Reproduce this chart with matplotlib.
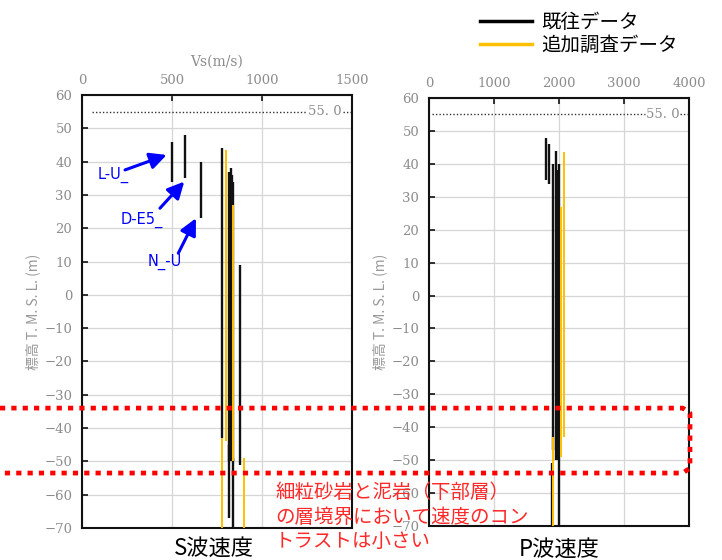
import matplotlib
matplotlib.use("Agg")
import matplotlib.pyplot as plt
from matplotlib.lines import Line2D
from matplotlib.transforms import blended_transform_factory

plt.rcParams['font.family'] = ['Noto Sans CJK JP', 'DejaVu Sans']

# S-wave velocity bars (m/s, elevation top / bottom in m)
s_old_vs = [500, 570, 660, 780, 818, 825, 832, 840, 880, 818, 840]
s_old_top = [46, 48, 40, 44, 37, 38, 36, 34, 9, -45, -49]
s_old_bot = [34, 35, 23, -43, -50, -50, -50, -50, -51, -67, -70]
s_new_vs = [778, 798, 840, 900]
s_new_top = [-43, 43.5, 27, -49]
s_new_bot = [-70, -44, -50, -70]

# P-wave velocity bars
p_old_vs = [1800, 1850, 1910, 1950, 1975, 2000, 1890, 2000]
p_old_top = [48, 46, 40, 44, 38, 40, -51, -50]
p_old_bot = [35, 34, -47, -50, -50, -50, -70, -70]
p_new_vs = [1913, 2030, 2080]
p_new_top = [-43, 27, 43.5]
p_new_bot = [-70, -49, -43]

ref_level = 55.0
boundary_top = -34
boundary_bot = -53.5

# blue labels: text, text pos, arrow tail, arrow head
lab_text = ['L-U_', 'D-E5_', 'N_-U']
lab_pos = [(172, 36), (330, 22.5), (460, 10)]
lab_tail = [(239, 37.5), (433, 26), (535, 12.5)]
lab_head = [(470, 42), (568, 34), (633, 23)]

BLACK = '#111111'
YELLOW = '#FFC000'
GRAY = '#8c8c8c'
serif = 'DejaVu Serif'

fig = plt.figure(figsize=(7.22, 5.60), dpi=100)
ax1 = fig.add_axes([82/722, 32/560, 270/722, 433/560])
ax2 = fig.add_axes([429/722, 34/560, 260/722, 428/560])


def style(ax, xmax, xstep, ref_start):
    ax.set_xlim(0, xmax)
    ax.set_ylim(-70, 60)
    ax.set_xticks(range(0, xmax + 1, xstep))
    ax.set_yticks(range(-70, 61, 10))
    ax.xaxis.tick_top()
    ax.tick_params(direction='in', length=4, width=1.2, color=BLACK,
                   labelcolor=GRAY, labelsize=9.5)
    ax.tick_params(axis='x', pad=6)
    ax.tick_params(axis='y', pad=7)
    for lab in ax.get_xticklabels() + ax.get_yticklabels():
        lab.set_family(serif)
    ax.grid(True, color='#d6d6d6', lw=0.9)
    ax.set_axisbelow(True)
    for sp in ax.spines.values():
        sp.set_linewidth(1.5)
        sp.set_color(BLACK)
    ax.axhline(ref_level, xmin=ref_start, xmax=0.83, color='#333333', lw=1.0,
               ls=(0, (1, 1.5)))
    ax.axhline(ref_level, xmin=0.965, xmax=1.0, color='#333333', lw=1.0,
               ls=(0, (1, 1.5)))
    ax.text(0.9, ref_level, '55. 0', transform=ax.get_yaxis_transform(),
            ha='center', va='center', color=GRAY, fontsize=9.5, family=serif)
    ax.set_ylabel('標高 T. M. S. L. (m)', color='#999999', fontsize=10, labelpad=3)


style(ax1, 1500, 500, 0.036)
style(ax2, 4000, 1000, 0.012)
ax1.set_xlabel('Vs(m/s)', color=GRAY, fontsize=10, family=serif, labelpad=6)
ax1.xaxis.set_label_position('top')

ax1.vlines(s_old_vs, s_old_bot, s_old_top, color=BLACK, lw=1.7, zorder=3)
ax1.vlines(s_new_vs, s_new_bot, s_new_top, color=YELLOW, lw=1.4, zorder=4)
ax2.vlines(p_old_vs, p_old_bot, p_old_top, color=BLACK, lw=1.7, zorder=3)
ax2.vlines(p_new_vs, p_new_bot, p_new_top, color=YELLOW, lw=1.4, zorder=4)

for t, p, a, h in zip(lab_text, lab_pos, lab_tail, lab_head):
    ax1.annotate('', xy=h, xytext=a,
                 arrowprops=dict(arrowstyle='-|>,head_length=1.0,head_width=0.5',
                                 color='#0000ff', lw=2.2, shrinkA=0, shrinkB=0))
    ax1.text(p[0], p[1], t, color='#0000ff', fontsize=10.5, ha='center',
             va='center', family=['DejaVu Sans'])

ax1.text(0.49, -0.02, 'S波速度', transform=ax1.transAxes, ha='center',
         va='top', fontsize=16, color='black')
ax2.text(0.5, -0.027, 'P波速度', transform=ax2.transAxes, ha='center',
         va='top', fontsize=16, color='black')

# red dotted box marking the boundary zone (drawn on the figure, above both axes)
tr = blended_transform_factory(fig.transFigure, ax1.transData)
xr = 690 / 722
box = Line2D([0, xr - 0.01, xr, xr, xr - 0.01, 0],
             [boundary_top, boundary_top, boundary_top - 1.5,
              boundary_bot + 1.5, boundary_bot, boundary_bot],
             transform=tr, color='#ff0000', lw=3.4, ls=(0, (1.1, 1.3)),
             zorder=10)
fig.add_artist(box)

fig.text(275/722, 1 - 517/560, '細粒砂岩と泥岩（下部層）\nの層境界において速度のコン\nトラストは小さい',
         color='#ff2a2a', fontsize=14, ha='left', va='center',
         linespacing=1.2, zorder=11)

handles = [Line2D([], [], color='black', lw=2.5),
           Line2D([], [], color=YELLOW, lw=2.5)]
fig.legend(handles, ['既往データ', '追加調査データ'], loc='upper left',
           bbox_to_anchor=(462/722, 1.01), frameon=False, fontsize=14,
           handlelength=2.7, labelspacing=0.1, handletextpad=0.5)

fig.savefig('out.png', dpi=100)
